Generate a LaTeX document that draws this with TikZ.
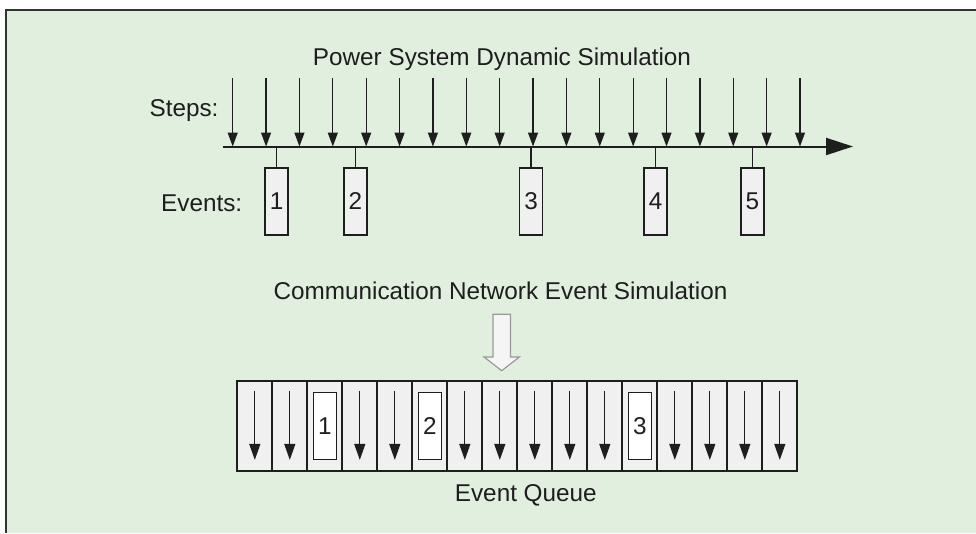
\documentclass[tikz,border=0pt]{standalone}
\usepackage{fontspec}
\setmainfont{Liberation Sans}
\usetikzlibrary{arrows.meta}

\definecolor{panelbg}{HTML}{E1EFDF}
\definecolor{boxfill}{HTML}{F0F0F0}
\definecolor{ink}{HTML}{1E1E1E}
\definecolor{framecol}{HTML}{333333}

\begin{document}
\begin{tikzpicture}[x=1pt,y=-1pt,
  every node/.style={text=ink},
  txt/.style={font=\fontsize{24.3}{28}\selectfont, inner sep=0pt},
  axisline/.style={draw=ink, line width=2pt, -{Triangle[length=27pt,width=17pt]}},
  steparrow/.style={draw=ink, line width=1.3pt, -{Triangle[length=14pt,width=10pt]}},
  stub/.style={draw=ink, line width=1.3pt},
  eventbox/.style={draw=ink, fill=boxfill, line width=1.5pt, minimum width=23pt,
    minimum height=67pt, inner sep=0pt, font=\fontsize{24.3}{28}\selectfont},
  cell/.style={draw=ink, fill=boxfill, line width=1.8pt, minimum width=35pt,
    minimum height=90pt, inner sep=0pt},
  qbox/.style={draw=ink, fill=white, line width=1.5pt, minimum width=23pt,
    minimum height=67pt, inner sep=0pt, font=\fontsize{24.3}{28}\selectfont},
  qarrow/.style={draw=ink, line width=1.3pt, -{Triangle[length=16pt,width=11pt]}},
  hollow/.style={draw=gray!80, fill=white!96!black, line width=1.2pt, line join=miter}
]
\useasboundingbox (0,0) rectangle (976,533);
\fill[white] (0,0) rectangle (976,533);
\fill[panelbg] (5.5,9.5) rectangle (976,533);
\draw[framecol, line width=2pt] (5.5,533) -- (5.5,9.5) -- (976,9.5);

% --- power system time line ---
\node[txt, anchor=base] (title) at (502,65.7) {Power System Dynamic Simulation};
\node[txt, anchor=base] (stepslbl) at (184,116) {Steps:};
\node[txt, anchor=base] (eventslbl) at (201.7,211.5) {Events:};

\coordinate (ax0) at (223,146.5);
\coordinate (ax1) at (853,146.5);
\draw[axisline] (ax0) -- (ax1);

\foreach \i in {0,...,17} {
  \coordinate (st\i) at ({232.7+33.37*\i},78);
  \draw[steparrow] (st\i) -- (st\i |- ax0);
}

\foreach \n/\x in {1/276.7, 2/355.3, 3/531, 4/655.7, 5/752.3} {
  \node[eventbox] (ev\n) at (\x,201.5) {\n};
  \draw[stub] (ev\n.north |- ax0) -- (ev\n.north);
}

% --- communication network side ---
\node[txt, anchor=base] (comm) at (500.5,299.3) {Communication Network Event Simulation};

\coordinate (harrow) at (501.7,314.3);
\draw[hollow] ([xshift=-8.8pt]harrow) -- ++(0,42.7) -- ++(-8.9,0)
  -- ([yshift=-56.4pt]harrow) -- ++(17.7,-13.7) -- ++(-8.9,0) -- ([xshift=8.8pt]harrow) -- cycle;

\foreach \i in {0,...,15} {
  \node[cell] (q\i) at ({237.3+35*(\i+0.5)},426) {};
}
\foreach \i in {0,1,3,4,6,7,8,9,10,12,13,14,15} {
  \draw[qarrow] ([yshift=-10.7pt]q\i.north) -- ([yshift=12pt]q\i.south);
}
\node[qbox] (qe1) at (q2) {1};
\node[qbox] (qe2) at (q5) {2};
\node[qbox] (qe3) at (q11) {3};

\node[txt, anchor=base] (queuelbl) at (525.8,501) {Event Queue};
\end{tikzpicture}
\end{document}
